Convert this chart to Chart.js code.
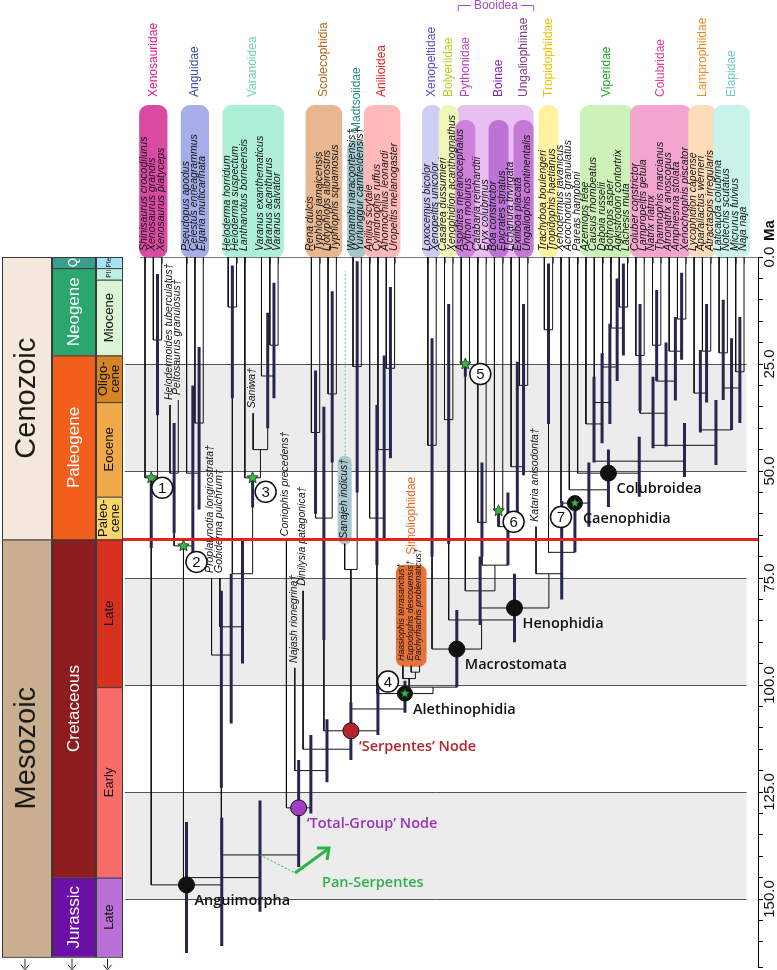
<!DOCTYPE html>
<html>
<head>
<meta charset="utf-8">
<script src="https://cdn.jsdelivr.net/npm/chart.js@4.4.1/dist/chart.umd.min.js"></script>
<style>
  html, body { margin: 0; padding: 0; background: #fff; }
  #wrap { width: 777px; height: 970px; }
</style>
</head>
<body>
<div id="wrap"><canvas id="c" width="777" height="970"></canvas></div>
<script>
// tips, left to right (extant taxa at 0 Ma, fossils at their age)
const tipNames = [
  'Shinisaurus crocodilurus', 'Xenosaurus grandis', 'Xenosaurus platyceps',
  'Helodermoides tuberculatus†', 'Peltosaurus granulosus†',
  'Pseudopus apodus', 'Celestus enneagrammus', 'Elgaria multicarinata',
  'Proplatynotia longirostrata†', 'Gobiderma pulchrum†',
  'Heloderma horridum', 'Heloderma suspectum', 'Lanthanotus borneensis', 'Saniwa†',
  'Varanus exanthematicus', 'Varanus acanthurus', 'Varanus salvator',
  'Coniophis precedens†', 'Najash rionegrina†', 'Dinilysia patagonica†',
  'Rena dulcis', 'Typhlops jamaicensis', 'Liotyphlops albirostris', 'Typhlophis squamosus',
  'Sanajeh indicus†', 'Wonambi naracoortensis†', 'Yurlunggur camfieldensis†',
  'Anilius scytale', 'Cylindrophis ruffus', 'Anomochilus leonardi', 'Uropeltis melanogaster',
  'Haasiophis terrasanctus†', 'Eupodophis descouensis†', 'Pachyrhachis problematicus†',
  'Loxocemus bicolor', 'Xenopeltis unicolor', 'Casarea dussumieri', 'Xenophidion acanthognathus',
  'Aspidites melanocephalus', 'Python molurus', 'Calabaria reinhardtii', 'Eryx colubrinus',
  'Boa constrictor', 'Epicrates striatus', 'Lichanura trivirgata', 'Exiliboa placata',
  'Ungaliophis continentalis', 'Kataria anisodonta†', 'Trachyboa boulengeri', 'Tropidophis haetianus',
  'Xenodermus javanicus', 'Acrochordus granulatus', 'Pareas hamptoni',
  'Azemiops feae', 'Causus rhombeatus', 'Daboia russelii', 'Bothrops asper',
  'Agkistrodon contortrix', 'Lachesis muta',
  'Coluber constrictor', 'Lampropeltis getula', 'Natrix natrix', 'Thamnophis marcianus',
  'Afronatrix anoscopus', 'Amphiesma stolata', 'Xenochrophis piscator',
  'Lycophidion capense', 'Aparallactus werneri', 'Atractaspis irregularis',
  'Laticauda colubrina', 'Notechis scutatus', 'Micrurus fulvius', 'Naja naja'
];
const tipAges = [
  0, 0, 0, 34.6, 33.4, 0, 0, 0, 75, 75, 0, 0, 0, 36.5, 0, 0, 0,
  66.4, 96, 78, 0, 0, 0, 0, 67, 0, 0, 0, 0, 0, 0, 95.5, 95.5, 95.5,
  0, 0, 0, 0, 0, 0, 0, 0, 0, 0, 0, 0, 0, 63, 0, 0,
  0, 0, 0, 0, 0, 0, 0, 0, 0, 0, 0, 0, 0, 0, 0, 0, 0, 0, 0, 0, 0, 0, 0
];

// internal nodes n0..n71 (children are tips "t#" or earlier nodes "n#")
const nodeLeft = ['t1','t0','t3','t6','t5','n2','t10','t15','t14','t13','t12','n6','t9','t8',
  't20','t22','n14','t25','t24','t29','t28','t27','t32','t31','t34','t36','t38','t40','t42','t45',
  't44','n28','n27','n26','t48','t57','t56','t55','t54','t53','t59','t61','t64','t63','n41','n40',
  't67','t66','t69','t71','n48','n47','n45','n39','t52','t51','t50','n34','t47','n33','n25','n24',
  'n23','n21','n18','n16','t19','t18','t17','n13','n5','n1'];
const nodeRight = ['t2','n0','t4','t7','n3','n4','t11','t16','n7','n8','n9','n10','n11','n12',
  't21','t23','n15','t26','n17','t30','n19','n20','t33','n22','t35','t37','t39','t41','t43','t46',
  'n29','n30','n31','n32','t49','t58','n35','n36','n37','n38','t60','t62','t65','n42','n43','n44',
  't68','n46','t70','t72','n49','n50','n51','n52','n53','n54','n55','n56','n57','n58','n59','n60',
  'n61','n62','n63','n64','n65','n66','n67','n68','n69','n70'];
const nodeAge = [19.4, 51.6, 50.5, 38.8, 50.5, 67.5, 11.7, 20.6, 27.8, 45, 51.6, 74, 86.4, 93,
  41, 32, 61, 25.6, 73, 26, 45, 61, 97, 98.5, 44, 38, 25, 62, 59.3, 30,
  49, 63, 72, 78, 17, 11.7, 16.6, 25.7, 34, 39, 23, 20.6, 14.5, 22, 29, 36.5,
  22, 31.8, 22.4, 26.8, 30.6, 40.4, 44, 47.7, 50.5, 54.4, 57.5, 69, 74, 82, 84.8, 91.6,
  100.5, 102, 105.6, 110.7, 115, 120, 128.7, 139.7, 145, 146.7];
// 95% age ranges of the nodes (null = not shown)
const hpdLo = [4, 51.6, 38.8, 21, 30, null, 2, 6, 13, null, 51.6, 66, 74, 78,
  26.5, 8, 35, 1, null, 7, 23, 34.6, null, null, 19, 11, 25, 48, 59.3, 11,
  24.5, 55, null, 70, 1.5, 1.5, 5, 15.6, 22.5, 28, 11, 7.7, 3.7, 14, 20, 28,
  11, 21.7, 10, 14, 19, 33.4, 38.8, 42, 45, 48, 57.5, 57, null, 74, null, 82.5,
  null, 99, 100.5, 104, 108, 111.7, 117.5, 127, 131, 132];
const hpdHi = [37, 68, 64.5, 59, 69, null, 33, 33, 40, null, 58.5, 95, 109, 124,
  60, 48, 89.5, 55, null, 47, 66, 72, null, null, 70, 67, 28, 70, 63, 51,
  60, 72, null, 86, 39, 23, 29, 39, 43.5, 48, 36, 29, 24, 33.5, 44.3, 44.7,
  34, 41, 33.4, 38.8, 40.4, 48.6, 51.4, 56, 58.4, 63, 69, 80, null, 90, null, 100.5,
  null, 106.5, 111.7, 117.5, 122.7, 130, 142.5, 153, 161, 162.6];

const cladeLabels = ['Anguimorpha', '\u2018Total-Group\u2019 Node', '\u2018Serpentes\u2019 Node',
  'Alethinophidia', 'Macrostomata', 'Henophidia', 'Caenophidia', 'Colubroidea'];
const cladeNodes = ['n71', 'n68', 'n65', 'n63', 'n61', 'n59', 'n56', 'n54'];
const calibNums = ['1', '2', '3', '4', '5', '6', '7'];
const calibNodes = ['n1', 'n5', 'n10', 'n63', 'n26', 'n28', 'n56'];

const famNames = ['Xenosauridae', 'Anguidae', 'Varanoidea', 'Scolecophidia', 'Madtsoiidae',
  'Anilioidea', 'Xenopeltidae', 'Bolyeriidae', 'Pythonidae', 'Boinae', 'Ungaliophiinae',
  'Tropidophiidae', 'Viperidae', 'Colubridae', 'Lamprophiidae', 'Elapidae'];
const famFirst = [0, 5, 10, 20, 25, 27, 34, 36, 38, 42, 45, 48, 53, 59, 66, 69];
const famLast = [2, 7, 16, 23, 26, 30, 35, 37, 39, 43, 46, 49, 58, 65, 68, 72];

// geological time scale
const eraNames = ['Cenozoic', 'Mesozoic'];
const eraBounds = [0, 66, 163.5];
const periodNames = ['Q', 'Neogene', 'Paleogene', 'Cretaceous', 'Jurassic'];
const periodBounds = [0, 2.6, 23, 66, 145, 163.5];
const epochNames = ['Ple', 'Pli', 'Miocene', 'Oligo-\ncene', 'Eocene', 'Paleo-\ncene', 'Late', 'Early', 'Late'];
const epochBounds = [0, 2.6, 5.3, 23, 33.9, 56, 66, 100.5, 145, 163.5];
const ageTicks = [0, 25, 50, 75, 100, 125, 150];
const kpgAge = 66;

// ---- build the tree geometry (values only; pixels come from the scales) ----
const pos = {};
tipNames.forEach((n, i) => { pos['t' + i] = { x: i, age: tipAges[i] }; });
nodeAge.forEach((a, k) => {
  const L = pos[nodeLeft[k]], R = pos[nodeRight[k]];
  pos['n' + k] = { x: (L.x + R.x) / 2, age: a };
});
const GAP = { x: NaN, y: NaN };
const branchPts = [];
const hpdPts = [];
nodeAge.forEach((a, k) => {
  const L = pos[nodeLeft[k]], R = pos[nodeRight[k]];
  branchPts.push({ x: L.x, y: L.age }, { x: L.x, y: a }, { x: R.x, y: a }, { x: R.x, y: R.age }, GAP);
  if (hpdLo[k] !== null) {
    const x = pos['n' + k].x;
    hpdPts.push({ x: x, y: hpdLo[k] }, { x: x, y: hpdHi[k] }, GAP);
  }
});

// ---- styles ----
const famBox = ['#d94aa3', '#a6ade8', '#aef0d6', '#e9b78f', '#a3c8cc', '#ffb9b9', '#cfcdf3', '#eef7b8',
  '#cf7fdc', '#bd72d8', '#c477d4', '#fff2a0', '#cdf2b8', '#f3a5cf', '#ffdcb9', '#c9f2eb'];
const famText = ['#e3197c', '#3c4ba6', '#6fd4aa', '#b5691f', '#238c7e', '#ea2027', '#5b4cc9', '#b5d11c',
  '#c23fb5', '#7d20b0', '#8b3a8c', '#f0c300', '#25a825', '#e43a91', '#f28a1e', '#6ccfbf'];
const eraFill = ['#f4e8dc', '#c9af8f'];
const periodFill = ['#3b9e8d', '#2ca66f', '#f25f1c', '#8c1c1e', '#6c0fa6'];
const epochFill = ['#a7e3f2', '#bdf0e4', '#dcf5d6', '#d68424', '#f0a948', '#f8d56c', '#d8301f', '#f76b69', '#ba70d6'];
const cladeColor = ['#111', '#9b32b8', '#b3242c', '#111', '#111', '#111', '#111', '#111'];
const calibOffset = [[11, 10], [13, 16], [13, 14], [-17, -12], [15, 10], [15, 11], [-14, 14]];
const LABEL_FONT = '600 14.5px "Open Sans", "Liberation Sans", sans-serif';

function vtext(ctx, str, x, y, align) {
  ctx.save();
  ctx.translate(x, y);
  ctx.rotate(-Math.PI / 2);
  ctx.textAlign = align;
  ctx.textBaseline = 'middle';
  const lines = str.split('\n');
  const lh = parseFloat(ctx.font.match(/([\d.]+)px/)[1]) * 0.95;
  lines.forEach((s, i) => ctx.fillText(s, 0, (i - (lines.length - 1) / 2) * lh));
  ctx.restore();
}
function seg(ctx, x0, y0, x1, y1) { ctx.beginPath(); ctx.moveTo(x0, y0); ctx.lineTo(x1, y1); ctx.stroke(); }
function rrect(ctx, x0, y0, x1, y1, r, fill) {
  ctx.beginPath();
  ctx.roundRect(x0, y0, x1 - x0, y1 - y0, r);
  ctx.fillStyle = fill;
  ctx.fill();
}
function star(ctx, x, y, r) {
  ctx.beginPath();
  for (let i = 0; i < 10; i++) {
    const rr = i % 2 ? r * 0.45 : r;
    const a = -Math.PI / 2 + i * Math.PI / 5;
    ctx.lineTo(x + rr * Math.cos(a), y + rr * Math.sin(a));
  }
  ctx.closePath();
  ctx.fillStyle = '#37b54a';
  ctx.fill();
  ctx.strokeStyle = '#143214';
  ctx.lineWidth = 0.8;
  ctx.stroke();
}
function dot(ctx, x, y, r, fill) {
  ctx.beginPath();
  ctx.arc(x, y, r, 0, Math.PI * 2);
  ctx.fillStyle = fill;
  ctx.fill();
  ctx.strokeStyle = '#111';
  ctx.lineWidth = 1;
  ctx.stroke();
}

const treePlugin = {
  id: 'tree',
  beforeDatasetsDraw(chart) {
    const ctx = chart.ctx, xs = chart.scales.x, ys = chart.scales.y;
    const X = v => xs.getPixelForValue(v), Y = v => ys.getPixelForValue(v);
    ctx.save();

    // grey bands and 25 Ma lines
    const bx0 = xs.left, bx1 = X(72.3);
    ctx.fillStyle = '#ececec';
    for (let a = 25; a < 160; a += 50) ctx.fillRect(bx0, Y(a), bx1 - bx0, Y(a + 25) - Y(a));
    ctx.strokeStyle = '#555';
    ctx.lineWidth = 1;
    ageTicks.slice(1).forEach(a => { const y = Math.round(Y(a)) + 0.5; seg(ctx, bx0, y, bx1, y); });

    // time scale columns
    const cols = [[2, 52], [52, 96], [96, 123]];
    const drawCol = (names, bounds, fills, c, color, font) => {
      for (let i = 0; i < names.length; i++) {
        const y0 = Y(bounds[i]), y1 = Y(bounds[i + 1]);
        ctx.fillStyle = fills[i];
        ctx.fillRect(c[0], y0, c[1] - c[0], y1 - y0);
        ctx.strokeStyle = '#3a3a3a';
        ctx.lineWidth = 1;
        ctx.strokeRect(c[0] + 0.5, y0 + 0.5, c[1] - c[0] - 1, y1 - y0);
        ctx.fillStyle = color;
        ctx.font = font(i);
        vtext(ctx, names[i], (c[0] + c[1]) / 2, (y0 + y1) / 2, 'center');
      }
    };
    drawCol(eraNames, eraBounds, eraFill, cols[0], '#1a1a1a', () => '29px "Liberation Sans", sans-serif');
    drawCol(periodNames, periodBounds, periodFill, cols[1], '#fff', i => (i === 0 ? '12px' : '17px') + ' "Liberation Sans", sans-serif');
    drawCol(epochNames, epochBounds, epochFill, cols[2], '#111', i => (i < 2 ? '7px' : '13px') + ' "Liberation Sans", sans-serif');
    // arrows below the scale
    ctx.strokeStyle = '#222';
    ctx.fillStyle = '#222';
    cols.forEach(c => {
      const cx = (c[0] + c[1]) / 2 - 2, yb = Y(163.5) + 2;
      seg(ctx, cx, yb, cx, yb + 9);
      ctx.beginPath(); ctx.moveTo(cx - 4, yb + 6); ctx.lineTo(cx, yb + 11); ctx.lineTo(cx + 4, yb + 6); ctx.stroke();
    });

    // family boxes at the top
    const pad = 0.7;
    rrect(ctx, X(38 - pad), 105, X(46 + pad), Y(0) + 1, 9, '#e9bff2');
    famNames.forEach((f, i) => {
      const top = i === 4 ? 140 : (i >= 8 && i <= 10 ? 120 : 105);
      rrect(ctx, X(famFirst[i] - pad), top, X(famLast[i] + pad), Y(0) + 1, 9, famBox[i]);
      ctx.fillStyle = famText[i];
      ctx.font = '12px "Liberation Sans", sans-serif';
      const cx = (X(famFirst[i]) + X(famLast[i])) / 2;
      vtext(ctx, f, cx, i === 4 ? 132 : 97, 'left');
    });
    // Booidea bracket
    ctx.strokeStyle = '#a64bc4';
    ctx.lineWidth = 1;
    const b0 = X(38) - 3, b1 = X(46) + 6;
    ctx.beginPath(); ctx.moveTo(b0, 11); ctx.lineTo(b0, 5.5); ctx.lineTo(b1, 5.5); ctx.lineTo(b1, 11); ctx.stroke();
    ctx.font = '12px "Liberation Sans", sans-serif';
    ctx.fillStyle = '#fff';
    const bw = ctx.measureText('Booidea').width;
    ctx.fillRect((b0 + b1) / 2 - bw / 2 - 3, 0, bw + 6, 12);
    ctx.fillStyle = '#a64bc4';
    ctx.textAlign = 'center'; ctx.textBaseline = 'middle';
    ctx.fillText('Booidea', (b0 + b1) / 2, 6);

    // Simoliophiidae box and Sanajeh box
    const ys0 = Y(95.5);
    rrect(ctx, X(31) - 7, ys0 - 101, X(33) + 7, ys0 + 1, 8, '#e5733a');
    ctx.fillStyle = '#ee6a2a';
    ctx.font = '12px "Liberation Sans", sans-serif';
    vtext(ctx, 'Simoliophiidae', X(32), ys0 - 111, 'left');
    const ysj = Y(tipAges[24]);
    rrect(ctx, X(24) - 7, ysj - 88, X(24) + 7, ysj + 1, 7, '#a9c9cf');
    ctx.strokeStyle = '#7fb5b8';
    ctx.setLineDash([2, 2]);
    seg(ctx, X(24) + 0.5, ysj - 88, X(24) + 0.5, Y(0) + 14);
    ctx.setLineDash([]);

    // top axis line with ticks at extant taxa
    ctx.strokeStyle = '#777';
    ctx.lineWidth = 1;
    const y0 = Math.round(Y(0)) + 0.5;
    seg(ctx, X(-0.6), y0, xs.right, y0);
    tipAges.forEach((a, i) => { if (a === 0) seg(ctx, Math.round(X(i)) + 0.5, y0, Math.round(X(i)) + 0.5, y0 + 6); });

    // taxon names
    ctx.fillStyle = '#111';
    tipNames.forEach((n, i) => {
      const a = tipAges[i];
      const inSimo = i >= 31 && i <= 33;
      ctx.font = 'italic ' + (inSimo ? '8.6px' : '10.5px') + ' "Liberation Sans", sans-serif';
      const yy = a === 0 ? Y(0) - 6 : Y(a) - 5;
      vtext(ctx, n, X(i) - 1, yy, 'left');
    });
    ctx.restore();
  },
  afterDatasetsDraw(chart) {
    const ctx = chart.ctx, xs = chart.scales.x, ys = chart.scales.y;
    const X = v => xs.getPixelForValue(v), Y = v => ys.getPixelForValue(v);
    const P = id => ({ x: X(pos[id].x), y: Y(pos[id].age) });
    ctx.save();

    // K-Pg boundary
    ctx.strokeStyle = '#e5221c';
    ctx.lineWidth = 3;
    seg(ctx, xs.left - 2, Y(kpgAge), xs.right, Y(kpgAge));

    // Pan-Serpentes pointer
    const ps = P('n69');
    ctx.strokeStyle = '#2fb14a';
    ctx.lineWidth = 1;
    ctx.setLineDash([2, 2]);
    seg(ctx, ps.x, ps.y, ps.x + 35, ps.y + 18);
    ctx.setLineDash([]);
    ctx.lineWidth = 3;
    seg(ctx, ps.x + 35, ps.y + 18, ps.x + 68, ps.y - 6);
    ctx.beginPath();
    ctx.moveTo(ps.x + 57, ps.y - 7); ctx.lineTo(ps.x + 69, ps.y - 7); ctx.lineTo(ps.x + 67, ps.y + 5);
    ctx.stroke();
    ctx.fillStyle = '#2fb14a';
    ctx.font = LABEL_FONT;
    ctx.textAlign = 'left'; ctx.textBaseline = 'alphabetic';
    ctx.fillText('Pan-Serpentes', ps.x + 62, ps.y + 32);

    // stars (calibrations) and node markers
    ['n1', 'n5', 'n10', 'n26', 'n28'].forEach(id => { const p = P(id); star(ctx, p.x, p.y, 6); });
    cladeNodes.forEach((id, i) => {
      const p = P(id);
      if (id === 'n63' || id === 'n56') { dot(ctx, p.x, p.y, 7.5, '#111'); star(ctx, p.x, p.y, 5); }
      else dot(ctx, p.x, p.y, 8, i === 1 ? '#a23ec4' : i === 2 ? '#b3242c' : '#111');
      ctx.fillStyle = cladeColor[i];
      ctx.font = LABEL_FONT;
      ctx.textAlign = 'left'; ctx.textBaseline = 'alphabetic';
      ctx.fillText(cladeLabels[i], p.x + 8, p.y + 20);
    });
    calibNodes.forEach((id, i) => {
      const p = P(id);
      const cx = p.x + calibOffset[i][0], cy = p.y + calibOffset[i][1];
      ctx.beginPath();
      ctx.arc(cx, cy, 10.5, 0, Math.PI * 2);
      ctx.fillStyle = '#fff'; ctx.fill();
      ctx.strokeStyle = '#111'; ctx.lineWidth = 1.5; ctx.stroke();
      ctx.fillStyle = '#111';
      ctx.font = '15px "Liberation Sans", sans-serif';
      ctx.textAlign = 'center'; ctx.textBaseline = 'middle';
      ctx.fillText(calibNums[i], cx, cy + 1);
    });

    // age labels on the right axis
    ctx.fillStyle = '#111';
    ctx.font = '15px "Liberation Sans", sans-serif';
    ageTicks.forEach(a => vtext(ctx, a.toFixed(1), 770, Y(a), 'center'));
    ctx.font = 'bold 15px "Liberation Sans", sans-serif';
    vtext(ctx, 'Ma', 770, Y(0) - 16, 'left');
    ctx.restore();
  }
};

new Chart(document.getElementById('c'), {
  type: 'scatter',
  data: {
    datasets: [
      { data: hpdPts, showLine: true, borderColor: '#262650', borderWidth: 3, pointRadius: 0, spanGaps: false },
      { data: branchPts, showLine: true, borderColor: '#111', borderWidth: 1, pointRadius: 0, spanGaps: false }
    ]
  },
  options: {
    responsive: false,
    animation: false,
    devicePixelRatio: 1,
    layout: { padding: { left: 125, top: 257, right: 0, bottom: 2.5 } },
    plugins: { legend: { display: false }, tooltip: { enabled: false } },
    scales: {
      x: { type: 'linear', min: -2.404, max: 73.68, display: false },
      y: {
        type: 'linear', reverse: true, min: 0, max: 166, position: 'right',
        grid: { drawOnChartArea: false, drawTicks: true, tickLength: 5, color: '#000', lineWidth: 1 },
        border: { display: true, color: '#000', width: 1 },
        ticks: { stepSize: 5, display: false },
        afterFit: s => { s.width = 19; }
      }
    }
  },
  plugins: [treePlugin]
});
</script>
</body>
</html>
